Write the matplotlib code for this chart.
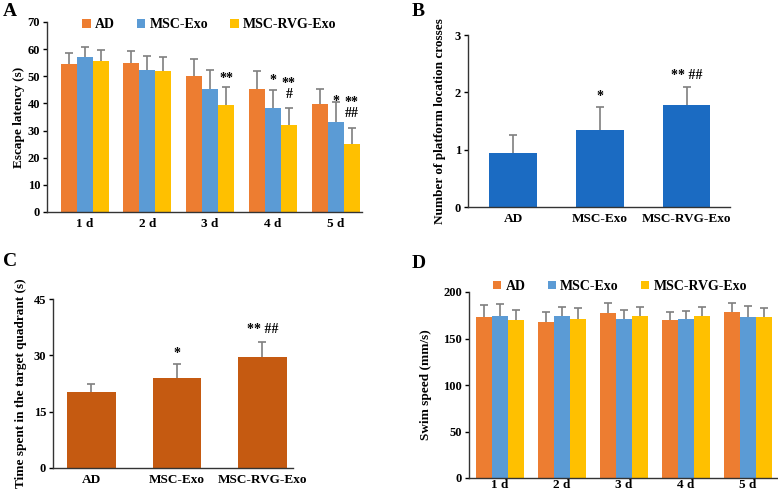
import numpy as np
import matplotlib
matplotlib.use('Agg')
from matplotlib import pyplot as plt

plt.rcParams['font.family'] = ['Liberation Serif', 'DejaVu Serif']
plt.rcParams['font.weight'] = 'bold'
plt.rcParams['axes.labelweight'] = 'bold'

# data
groups = ['AD', 'MSC-Exo', 'MSC-RVG-Exo']
days = ['1 d', '2 d', '3 d', '4 d', '5 d']

# A: escape latency (s)
lat_ad = [54.5, 55.0, 50.0, 45.3, 39.8]
lat_msc = [57.0, 52.5, 45.3, 38.5, 33.0]
lat_rvg = [55.8, 51.8, 39.3, 32.2, 25.0]
lat_ad_err = [4.0, 4.2, 6.3, 6.7, 5.5]
lat_msc_err = [3.8, 5.1, 7.1, 6.3, 7.5]
lat_rvg_err = [3.8, 5.4, 6.7, 6.2, 5.8]

# B: platform crossings
cross = [0.95, 1.34, 1.785]
cross_err = [0.31, 0.40, 0.305]

# C: time in target quadrant (s)
quad = [20.3, 24.0, 29.6]
quad_err = [2.0, 3.6, 4.0]

# D: swim speed (mm/s)
spd_ad = [172.8, 168.0, 177.5, 169.6, 178.6]
spd_msc = [174.3, 174.3, 170.7, 170.7, 172.8]
spd_rvg = [170.0, 171.0, 174.3, 174.3, 172.8]
spd_ad_err = [13.1, 10.3, 10.2, 8.7, 9.1]
spd_msc_err = [12.7, 10.1, 10.1, 8.6, 12.0]
spd_rvg_err = [10.8, 12.0, 10.1, 10.1, 10.5]

c_ad = '#ED7D31'
c_msc = '#5B9BD5'
c_rvg = '#FFC000'
c_b = '#1B6BC2'
c_c = '#C55A11'
c_err = '#7F7F7F'

W, H = 778, 492
fig = plt.figure(figsize=(W / 100, H / 100), dpi=100)


def box(l, r, t, b):
    return [l / W, (H - b) / H, (r - l) / W, (b - t) / H]


def style(ax, xpad=4):
    for s in ['top', 'right']:
        ax.spines[s].set_visible(False)
    for s in ['left', 'bottom']:
        ax.spines[s].set_color('#333333')
        ax.spines[s].set_linewidth(1.0)
    ax.tick_params(axis='y', direction='out', length=3, width=1, labelsize=9, pad=2)
    ax.tick_params(axis='x', length=0, labelsize=9.5, pad=xpad)
    for t in ax.get_xticklabels() + ax.get_yticklabels():
        t.set_fontweight('bold')


def errs(ax, x, y, e, cap=3):
    _, caps, _ = ax.errorbar(x, y, yerr=[np.zeros(len(e)), e], fmt='none', ecolor=c_err,
                             elinewidth=1.2, capsize=cap, capthick=1.2)
    caps[0].set_visible(False)


def grouped(ax, a, b, c, ea, eb, ec, w=0.255):
    x = np.arange(len(days))
    for k, (vals, ev, col) in enumerate([(a, ea, c_ad), (b, eb, c_msc), (c, ec, c_rvg)]):
        xx = x + (k - 1) * w
        ax.bar(xx, vals, w, color=col, label=groups[k])
        errs(ax, xx, vals, ev)
    ax.set_xticks(x)
    ax.set_xticklabels(days)
    return x, w


leg_kw = dict(loc='center', ncol=3, frameon=False, handlelength=0.6, handleheight=0.6,
              handletextpad=0.3, columnspacing=1.6, fontsize=10, borderaxespad=0)
sig_kw = dict(ha='center', va='center', fontsize=10, fontweight='bold', linespacing=0.85)

# ---- A
axA = fig.add_axes(box(47, 362, 22, 212))
x, w = grouped(axA, lat_ad, lat_msc, lat_rvg, lat_ad_err, lat_msc_err, lat_rvg_err)
axA.set_xlim(-0.6, 4.42)
axA.set_ylim(0, 70)
axA.set_yticks(range(0, 71, 10))
axA.set_ylabel('Escape latency (s)', fontsize=9.5, labelpad=2)
style(axA)
axA.legend(bbox_to_anchor=(0.515, 0.985), **leg_kw)
axA.text(x[2] + w, 49.2, '**', **sig_kw)
axA.text(x[3], 48.5, '*', **sig_kw)
axA.text(x[3] + w, 45.3, '**\n#', **sig_kw)
axA.text(x[4], 40.8, '*', **sig_kw)
axA.text(x[4] + w, 38.3, '**\n##', **sig_kw)

# ---- B
axB = fig.add_axes(box(468, 730, 35, 207))
xb = np.arange(len(groups))
axB.bar(xb, cross, 0.55, color=c_b)
errs(axB, xb, cross, cross_err)
axB.set_xlim(-0.52, 2.5)
axB.set_ylim(0, 3)
axB.set_yticks([0, 1, 2, 3])
axB.set_xticks(xb)
axB.set_xticklabels(groups)
axB.set_ylabel('Number of platform location crosses', fontsize=9.5, labelpad=6)
style(axB)
axB.text(xb[1], 1.93, '*', **sig_kw)
axB.text(xb[2], 2.30, '** ##', **sig_kw)

# ---- C
axC = fig.add_axes(box(53, 293, 299, 468))
axC.bar(xb, quad, 0.57, color=c_c)
errs(axC, xb, quad, quad_err)
axC.set_xlim(-0.45, 2.36)
axC.set_ylim(0, 45)
axC.set_yticks([0, 15, 30, 45])
axC.set_xticks(xb)
axC.set_xticklabels(groups)
axC.set_ylabel('Time spent in the target quadrant (s)', fontsize=9.5, labelpad=5)
style(axC)
axC.text(xb[1], 30.4, '*', **sig_kw)
axC.text(xb[2], 36.9, '** ##', **sig_kw)

# ---- D
axD = fig.add_axes(box(469, 777, 292, 478))
grouped(axD, spd_ad, spd_msc, spd_rvg, spd_ad_err, spd_msc_err, spd_rvg_err, w=0.258)
axD.set_xlim(-0.5, 4.47)
axD.set_ylim(0, 200)
axD.set_yticks(range(0, 201, 50))
axD.set_ylabel('Swim speed (mm/s)', fontsize=9.5, labelpad=8)
style(axD, xpad=1)
axD.legend(bbox_to_anchor=(0.49, 1.03), **leg_kw)

# panel letters
for lab, px, py in [('A', 3, 3), ('B', 412, 3), ('C', 3, 253), ('D', 412, 255)]:
    fig.text(px / W, 1 - py / H, lab, fontsize=14, fontweight='bold', ha='left', va='top')

fig.savefig('out.png', dpi=100)
